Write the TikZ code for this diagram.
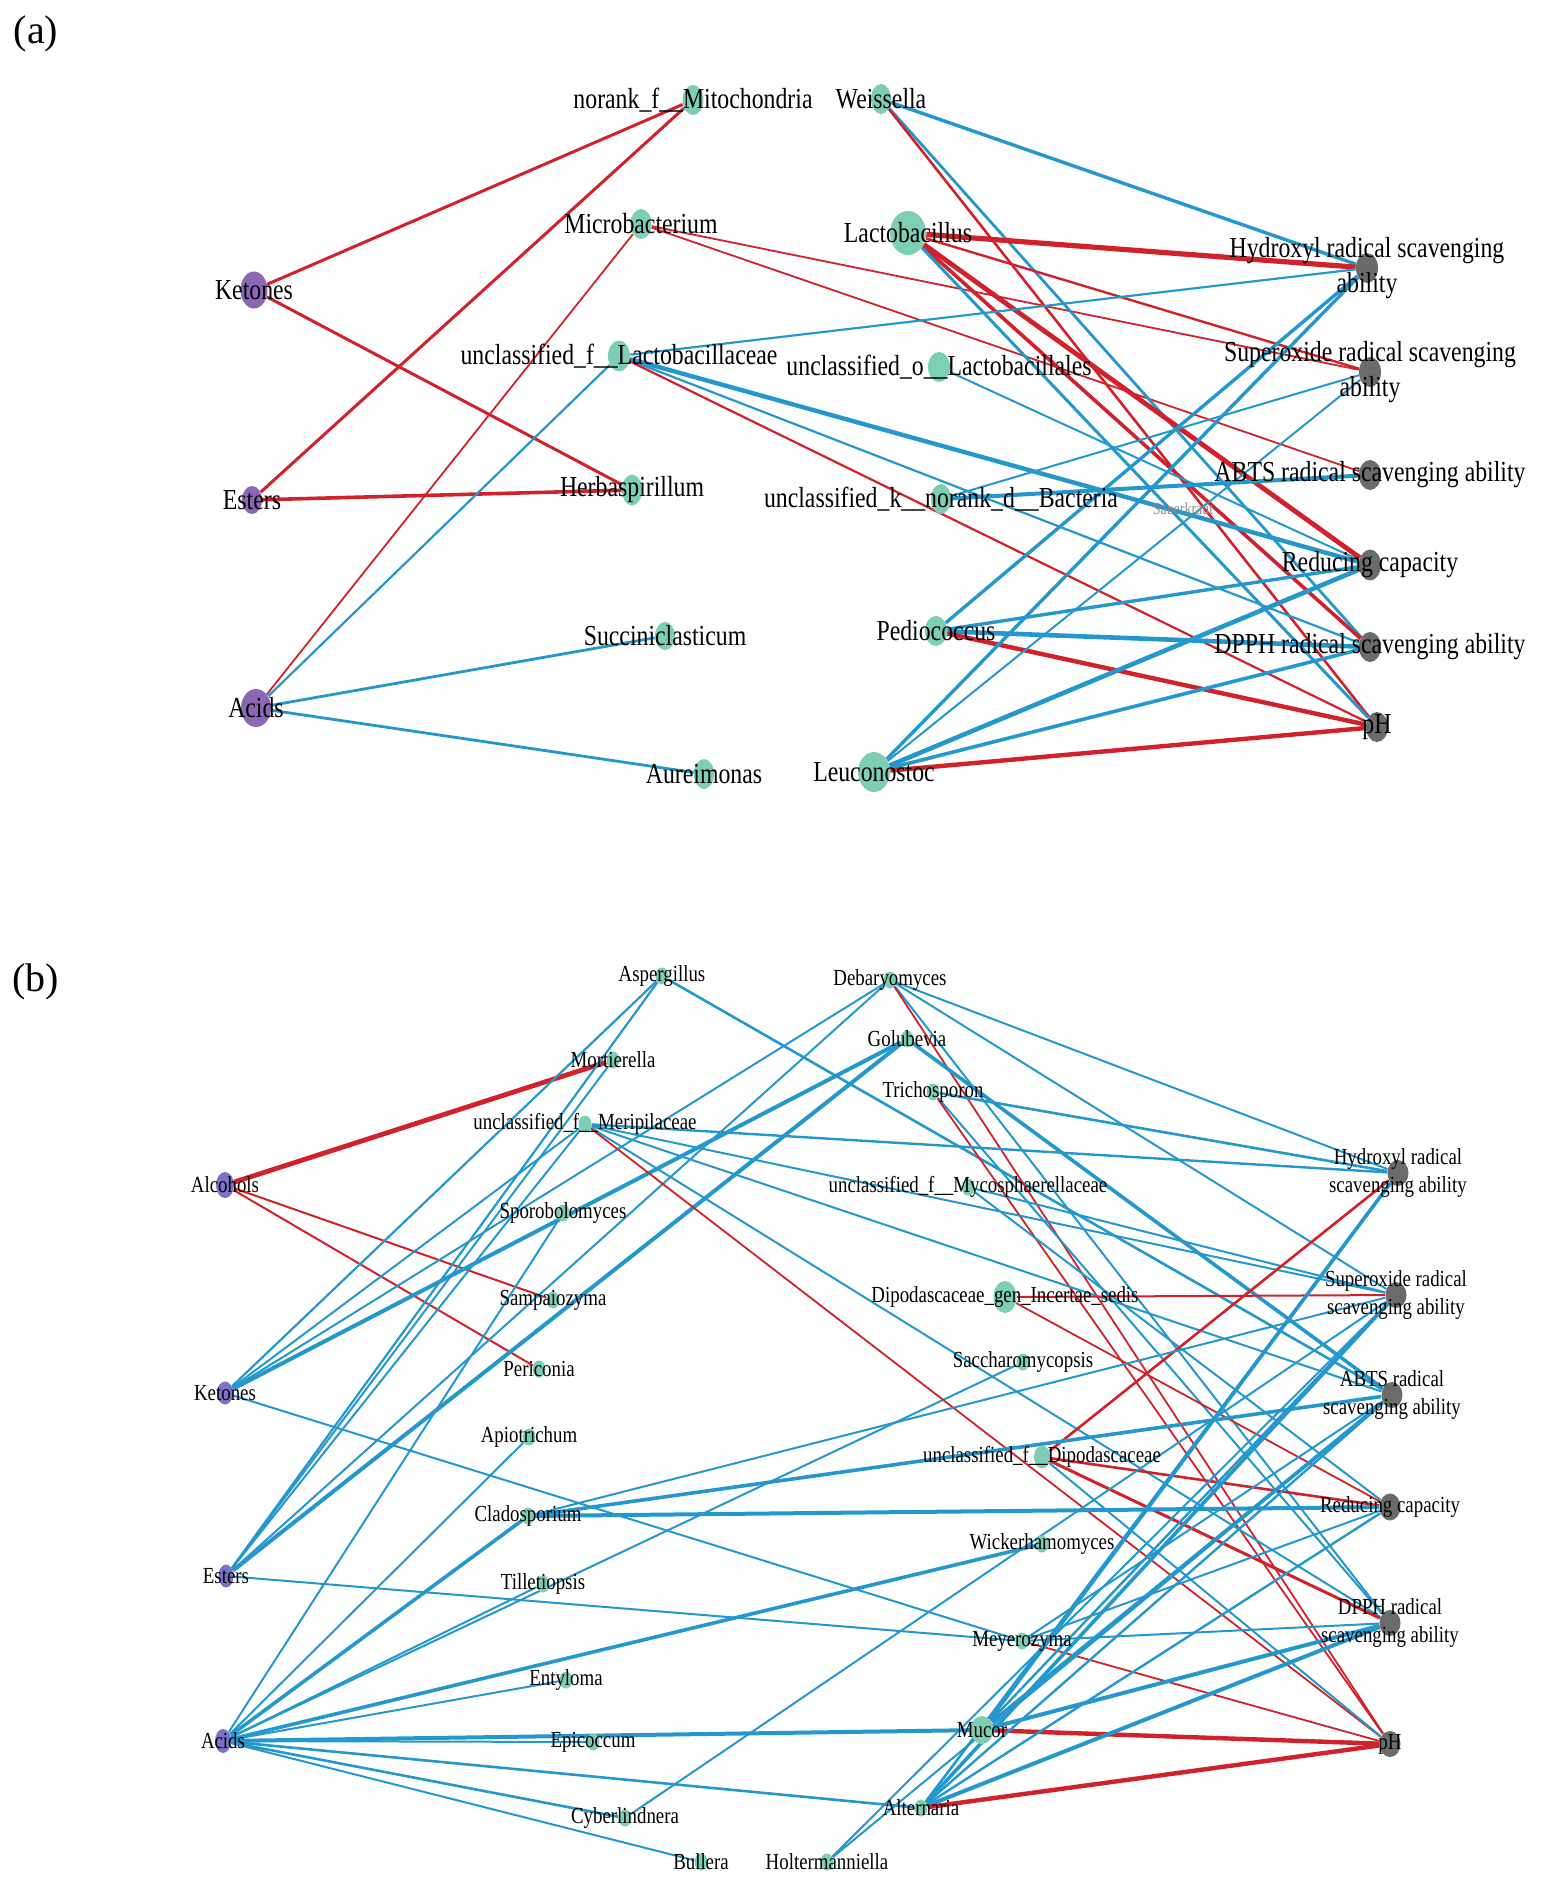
\documentclass[tikz,border=0pt]{standalone}
\usepackage{fontspec}
\setmainfont{Liberation Serif}[FakeStretch=0.82]
\newfontfamily\panelfont{Liberation Serif}
\usepackage{tikz}
\usetikzlibrary{positioning, shapes.geometric}
\definecolor{cpda}{RGB}{140,104,180}
\definecolor{cpdb}{RGB}{124,114,200}
\definecolor{genc}{RGB}{125,206,181}
\definecolor{prpc}{RGB}{107,107,107}
\definecolor{edgr}{RGB}{209,33,42}
\definecolor{edgb}{RGB}{36,152,205}
\pgfdeclarelayer{edges}
\pgfsetlayers{edges,main}
\tikzset{ca/.style={ellipse, inner sep=0, fill=cpda, minimum width=13pt, minimum height=18pt}}
\tikzset{ga/.style={ellipse, inner sep=0, fill=genc, minimum width=10.5pt, minimum height=15pt}}
\tikzset{pa/.style={ellipse, inner sep=0, fill=prpc, minimum width=11pt, minimum height=15pt}}
\tikzset{cb/.style={ellipse, inner sep=0, fill=cpdb, minimum width=8pt, minimum height=11.5pt}}
\tikzset{gb/.style={ellipse, inner sep=0, fill=genc, minimum width=6.5pt, minimum height=8.5pt}}
\tikzset{pb/.style={ellipse, inner sep=0, fill=prpc, minimum width=10.5pt, minimum height=13pt}}
\tikzset{la/.style={font=\fontsize{14.5}{17.5}\selectfont, align=center, inner sep=0}}
\tikzset{lb/.style={font=\fontsize{11.5}{13.8}\selectfont, align=center, inner sep=0}}
\tikzset{rl/.style={draw=edgr, line width=#1}, rl/.default=1pt}
\tikzset{bl/.style={draw=edgb, line width=#1}, bl/.default=1pt}

\begin{document}
\begin{tikzpicture}[x=0.5pt, y=-0.5pt]
\useasboundingbox (0,0) rectangle (1542,1885);

\node[font=\panelfont\fontsize{20}{20}\selectfont] (pna) at (36,34) {(a)};
\node[font=\panelfont\fontsize{20}{20}\selectfont] (pnb) at (36,982) {(b)};

% (a)
\node[ca, minimum width=13.5pt, minimum height=18.5pt, label={[la]center:Ketones}] (aKet) at (254,290) {};
\node[ca, minimum width=10pt, minimum height=14pt, label={[la]center:Esters}] (aEst) at (252,500) {};
\node[ca, minimum width=15pt, minimum height=19pt, label={[la]center:Acids}] (aAcd) at (256,708) {};
\node[ga, label={[la]center:norank\_f\_\_Mitochondria}] (aMit) at (693,100) {};
\node[ga, minimum width=10pt, label={[la]center:Weissella}] (aWei) at (881,99) {};
\node[ga, label={[la]center:Microbacterium}] (aMic) at (641,224) {};
\node[ga, minimum width=18pt, minimum height=22pt, label={[la]center:Lactobacillus}] (aLac) at (908,233) {};
\node[ga, minimum width=11pt, minimum height=15.5pt, label={[la]center:unclassified\_f\_\_Lactobacillaceae}] (aLF) at (619,356) {};
\node[ga, minimum width=11pt, label={[la]center:unclassified\_o\_\_Lactobacillales}] (aLO) at (939,367) {};
\node[ga, minimum width=10pt, minimum height=15.5pt, label={[la]center:Herbaspirillum}] (aHer) at (632,490) {};
\node[ga, minimum width=10pt, label={[la]center:unclassified\_k\_\_norank\_d\_\_Bacteria}] (aBac) at (941,499) {};
\node[ga, minimum width=10pt, minimum height=14pt, label={[la]center:Succiniclasticum}] (aSuc) at (665,636) {};
\node[ga, minimum width=11pt, label={[la]center:Pediococcus}] (aPed) at (936,631) {};
\node[ga, minimum width=10pt, label={[la]center:Aureimonas}] (aAur) at (704,774) {};
\node[ga, minimum width=16pt, minimum height=20pt, label={[la]center:Leuconostoc}] (aLeu) at (874,772) {};
\node[pa, label={[la]center:{Hydroxyl radical scavenging\\ability}}] (aHyd) at (1367,268) {};
\node[pa, label={[la]center:{Superoxide radical scavenging\\ability}}] (aSup) at (1370,372) {};
\node[pa, label={[la]center:ABTS radical scavenging ability}] (aABT) at (1370,475) {};
\node[pa, minimum height=15.5pt, label={[la]center:Reducing capacity}] (aRed) at (1370,565) {};
\node[pa, label={[la]center:DPPH radical scavenging ability}] (aDPP) at (1370,647) {};
\node[pa, label={[la]center:pH}] (aPH) at (1377,727) {};
\node[font=\fontsize{8.5}{8.5}\selectfont, text=black!45] (aSau) at (1183,509) {Sauerkraut};

\begin{pgfonlayer}{edges}
\draw[rl=1.5pt] (aKet) -- (aMit);
\draw[rl=1.5pt] (aEst) -- (aMit);
\draw[rl=1.5pt] (aKet) -- (aHer);
\draw[rl=1.8pt] (aEst) -- (aHer);
\draw[rl=0.9pt] (aAcd) -- (aMic);
\draw[bl=1.1pt] (aAcd) -- (aLF);
\draw[bl=1.4pt] (aAcd) -- (aSuc);
\draw[bl=1.4pt] (aAcd) -- (aAur);
\draw[rl=0.9pt] (aMic) -- (aSup);
\draw[rl=0.9pt] (aMic) -- (aABT);
\draw[bl=1.7pt] (aWei) -- (aHyd);
\draw[bl=1.4pt] (aWei) -- (aDPP);
\draw[rl=1.3pt] (aWei) -- (aPH);
\draw[rl=2.6pt] (aLac) -- (aHyd);
\draw[rl=1.2pt] (aLac) -- (aSup);
\draw[rl=2.4pt] (aLac) -- (aRed);
\draw[rl=1.8pt] (aLac) -- (aDPP);
\draw[bl=1.5pt] (aLac) -- (aPH);
\draw[bl=1.1pt] (aLF) -- (aHyd);
\draw[bl=2.2pt] (aLF) -- (aRed);
\draw[bl=1.1pt] (aLF) -- (aDPP);
\draw[rl=1.1pt] (aLF) -- (aPH);
\draw[bl=1pt] (aLO) -- (aRed);
\draw[bl=2pt] (aBac) -- (aABT);
\draw[bl=1pt] (aBac) -- (aSup);
\draw[bl=1.7pt] (aPed) -- (aHyd);
\draw[bl=1.7pt] (aPed) -- (aRed);
\draw[bl=2.3pt] (aPed) -- (aDPP);
\draw[rl=2.2pt] (aPed) -- (aPH);
\draw[bl=1.7pt] (aLeu) -- (aHyd);
\draw[bl=1pt] (aLeu) -- (aSup);
\draw[bl=2.3pt] (aLeu) -- (aRed);
\draw[bl=1.8pt] (aLeu) -- (aDPP);
\draw[rl=2.2pt] (aLeu) -- (aPH);
\end{pgfonlayer}

% (b)
\node[cb, minimum width=9pt, minimum height=13pt, label={[lb]center:Alcohols}] (bAlc) at (225,1185) {};
\node[cb, label={[lb]center:Ketones}] (bKet) at (225,1393) {};
\node[cb, minimum width=7.5pt, label={[lb]center:Esters}] (bEst) at (226,1576) {};
\node[cb, minimum height=12pt, label={[lb]center:Acids}] (bAcd) at (223,1741) {};
\node[gb, label={[lb]center:Aspergillus}] (bAsp) at (662,976) {};
\node[gb, label={[lb]center:Debaryomyces}] (bDeb) at (890,980) {};
\node[gb, label={[lb]center:Golubevia}] (bGol) at (907,1039) {};
\node[gb, label={[lb]center:Mortierella}] (bMor) at (613,1060) {};
\node[gb, label={[lb]center:Trichosporon}] (bTri) at (933,1092) {};
\node[gb, label={[lb]center:unclassified\_f\_\_Meripilaceae}] (bMer) at (585,1124) {};
\node[gb, label={[lb]center:unclassified\_f\_\_Mycosphaerellaceae}] (bMyc) at (968,1187) {};
\node[gb, label={[lb]center:Sporobolomyces}] (bSpo) at (563,1213) {};
\node[gb, label={[lb]center:Sampaiozyma}] (bSam) at (553,1300) {};
\node[gb, minimum width=11.5pt, minimum height=16pt, label={[lb]center:Dipodascaceae\_gen\_Incertae\_sedis}] (bDGI) at (1005,1297) {};
\node[gb, label={[lb]center:Periconia}] (bPer) at (539,1369) {};
\node[gb, label={[lb]center:Saccharomycopsis}] (bSac) at (1023,1362) {};
\node[gb, label={[lb]center:Apiotrichum}] (bApi) at (529,1437) {};
\node[gb, minimum width=8pt, minimum height=11.5pt, label={[lb]center:unclassified\_f\_\_Dipodascaceae}] (bDip) at (1042,1457) {};
\node[gb, label={[lb]center:Cladosporium}] (bCla) at (528,1516) {};
\node[gb, label={[lb]center:Wickerhamomyces}] (bWic) at (1042,1544) {};
\node[gb, label={[lb]center:Tilletiopsis}] (bTil) at (543,1584) {};
\node[gb, label={[lb]center:Meyerozyma}] (bMey) at (1022,1641) {};
\node[gb, label={[lb]center:Entyloma}] (bEnt) at (566,1680) {};
\node[gb, minimum width=11.5pt, minimum height=14pt, label={[lb]center:Mucor}] (bMuc) at (982,1730) {};
\node[gb, label={[lb]center:Epicoccum}] (bEpi) at (593,1742) {};
\node[gb, label={[lb]center:Alternaria}] (bAlt) at (921,1808) {};
\node[gb, label={[lb]center:Cyberlindnera}] (bCyb) at (625,1818) {};
\node[gb, label={[lb]center:Bullera}] (bBul) at (701,1862) {};
\node[gb, label={[lb]center:Holtermanniella}] (bHol) at (827,1862) {};
\node[pb, label={[lb]center:{Hydroxyl radical\\scavenging ability}}] (bHyd) at (1398,1173) {};
\node[pb, label={[lb]center:{Superoxide radical\\scavenging ability}}] (bSup) at (1396,1295) {};
\node[pb, label={[lb]center:{ABTS radical\\scavenging ability}}] (bABT) at (1392,1395) {};
\node[pb, minimum height=13.5pt, label={[lb]center:Reducing capacity}] (bRed) at (1390,1507) {};
\node[pb, label={[lb]center:{DPPH radical\\scavenging ability}}] (bDPP) at (1390,1623) {};
\node[pb, label={[lb]center:pH}] (bPH) at (1390,1744) {};

\begin{pgfonlayer}{edges}
\draw[rl=2.4pt] (bAlc) -- (bMor);
\draw[rl=1pt] (bAlc) -- (bSam);
\draw[rl=1pt] (bAlc) -- (bPer);
\draw[bl=1.1pt] (bKet) -- (bAsp);
\draw[bl=1pt] (bKet) -- (bMer);
\draw[bl=1pt] (bKet) -- (bDeb);
\draw[bl=2pt] (bKet) -- (bGol);
\draw[bl=1pt] (bKet) -- (bMey);
\draw[bl=1.1pt] (bEst) -- (bAsp);
\draw[bl=1pt] (bEst) -- (bMer);
\draw[bl=1pt] (bEst) -- (bMor);
\draw[bl=1pt] (bEst) -- (bDeb);
\draw[bl=2pt] (bEst) -- (bGol);
\draw[bl=1pt] (bEst) -- (bMey);
\draw[bl=1pt] (bAcd) -- (bSpo);
\draw[bl=1pt] (bAcd) -- (bApi);
\draw[bl=1.8pt] (bAcd) -- (bCla);
\draw[bl=1pt] (bAcd) -- (bTil);
\draw[bl=1pt] (bAcd) -- (bSac);
\draw[bl=1pt] (bAcd) -- (bEnt);
\draw[bl=1pt] (bAcd) -- (bEpi);
\draw[bl=2pt] (bAcd) -- (bMuc);
\draw[bl=1.8pt] (bAcd) -- (bWic);
\draw[bl=1.3pt] (bAcd) -- (bAlt);
\draw[bl=1.3pt] (bAcd) -- (bCyb);
\draw[bl=1pt] (bAcd) -- (bBul);
\draw[bl=1.3pt] (bAsp) -- (bABT);
\draw[bl=1pt] (bDeb) -- (bHyd);
\draw[bl=1pt] (bDeb) -- (bSup);
\draw[bl=1pt] (bDeb) -- (bDPP);
\draw[rl=0.9pt] (bDeb) -- (bPH);
\draw[bl=1.8pt] (bGol) -- (bABT);
\draw[bl=1.3pt] (bTri) -- (bHyd);
\draw[bl=1pt] (bTri) -- (bDPP);
\draw[rl=0.9pt] (bTri) -- (bPH);
\draw[bl=1.2pt] (bMer) -- (bHyd);
\draw[bl=1pt] (bMer) -- (bSup);
\draw[bl=1pt] (bMer) -- (bABT);
\draw[bl=1pt] (bMer) -- (bDPP);
\draw[rl=0.9pt] (bMer) -- (bPH);
\draw[bl=1pt] (bMyc) -- (bSup);
\draw[bl=1pt] (bMyc) -- (bRed);
\draw[rl=1pt] (bDGI) -- (bSup);
\draw[rl=0.9pt] (bDGI) -- (bRed);
\draw[rl=1.3pt] (bDip) -- (bHyd);
\draw[rl=1.3pt] (bDip) -- (bRed);
\draw[rl=1.5pt] (bDip) -- (bDPP);
\draw[bl=1pt] (bDip) -- (bPH);
\draw[bl=1pt] (bCla) -- (bSup);
\draw[bl=1.8pt] (bCla) -- (bABT);
\draw[bl=2pt] (bCla) -- (bRed);
\draw[bl=1pt] (bMey) -- (bABT);
\draw[bl=1pt] (bMey) -- (bRed);
\draw[bl=1pt] (bMey) -- (bDPP);
\draw[rl=0.9pt] (bMey) -- (bPH);
\draw[bl=1.8pt] (bMuc) -- (bHyd);
\draw[bl=1.2pt] (bMuc) -- (bSup);
\draw[bl=1.8pt] (bMuc) -- (bABT);
\draw[bl=2pt] (bMuc) -- (bDPP);
\draw[rl=2.2pt] (bMuc) -- (bPH);
\draw[bl=1.3pt] (bAlt) -- (bHyd);
\draw[bl=1.8pt] (bAlt) -- (bSup);
\draw[bl=1.2pt] (bAlt) -- (bABT);
\draw[bl=1.2pt] (bAlt) -- (bRed);
\draw[bl=2pt] (bAlt) -- (bDPP);
\draw[rl=2.2pt] (bAlt) -- (bPH);
\draw[bl=1pt] (bCyb) -- (bSup);
\draw[bl=1pt] (bHol) -- (bSup);
\draw[bl=1pt] (bHol) -- (bABT);
\end{pgfonlayer}
\end{tikzpicture}
\end{document}
